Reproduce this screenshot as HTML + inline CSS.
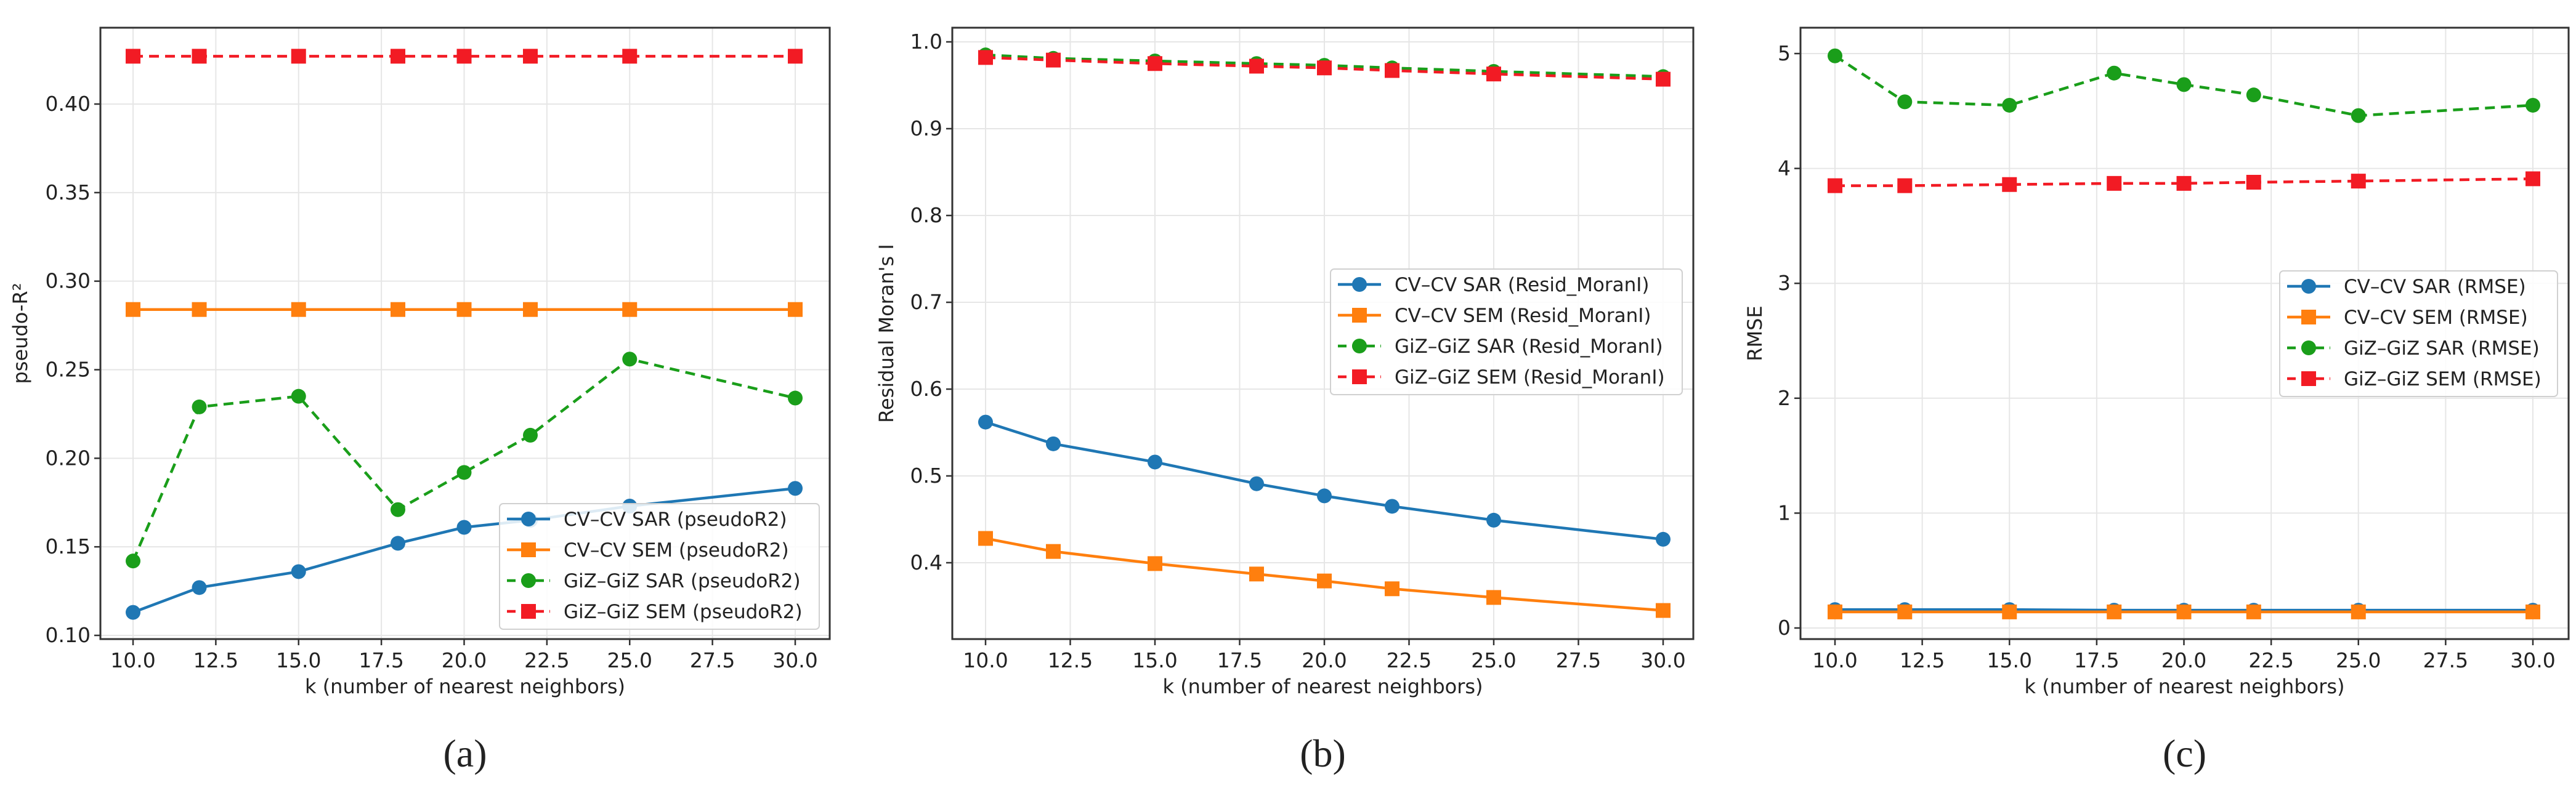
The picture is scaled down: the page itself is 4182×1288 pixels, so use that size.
<!DOCTYPE html>
<html><head><meta charset="utf-8"><style>
html,body{margin:0;padding:0;background:#fff;}
svg{display:block;}
text{font-family:"DejaVu Sans","Liberation Sans",sans-serif;fill:#222;}
</style></head><body>
<svg id="fig" width="4182" height="1288" viewBox="0 0 4182 1288" xmlns="http://www.w3.org/2000/svg"></svg>
<script>
const kValues = [10, 12, 15, 18, 20, 22, 25, 30];
const xTicks = [10, 12.5, 15, 17.5, 20, 22.5, 25, 27.5, 30];
const xTickLabels = ["10.0","12.5","15.0","17.5","20.0","22.5","25.0","27.5","30.0"];

const aCvSar = [0.113, 0.127, 0.136, 0.152, 0.161, 0.165, 0.173, 0.183];
const aCvSem = [0.284, 0.284, 0.284, 0.284, 0.284, 0.284, 0.284, 0.284];
const aGizSar = [0.142, 0.229, 0.235, 0.171, 0.192, 0.213, 0.256, 0.234];
const aGizSem = [0.427, 0.427, 0.427, 0.427, 0.427, 0.427, 0.427, 0.427];
const aYTicks = [0.10, 0.15, 0.20, 0.25, 0.30, 0.35, 0.40];
const aYTickLabels = ["0.10","0.15","0.20","0.25","0.30","0.35","0.40"];

const bCvSar = [0.562, 0.537, 0.516, 0.491, 0.477, 0.465, 0.449, 0.427];
const bCvSem = [0.428, 0.413, 0.399, 0.387, 0.379, 0.370, 0.360, 0.345];
const bGizSar = [0.985, 0.981, 0.978, 0.975, 0.973, 0.970, 0.966, 0.960];
const bGizSem = [0.982, 0.979, 0.975, 0.972, 0.970, 0.967, 0.963, 0.957];
const bYTicks = [0.4, 0.5, 0.6, 0.7, 0.8, 0.9, 1.0];
const bYTickLabels = ["0.4","0.5","0.6","0.7","0.8","0.9","1.0"];

const cCvSar = [0.16, 0.16, 0.16, 0.155, 0.155, 0.155, 0.155, 0.155];
const cCvSem = [0.14, 0.14, 0.14, 0.14, 0.14, 0.14, 0.14, 0.14];
const cGizSar = [4.98, 4.58, 4.55, 4.83, 4.73, 4.64, 4.46, 4.55];
const cGizSem = [3.85, 3.85, 3.86, 3.87, 3.87, 3.88, 3.89, 3.91];
const cYTicks = [0, 1, 2, 3, 4, 5];
const cYTickLabels = ["0","1","2","3","4","5"];

const NS = "http://www.w3.org/2000/svg";
const svg = document.getElementById("fig");
function mk(tag, attrs, parent){
  const e = document.createElementNS(NS, tag);
  for (const k in attrs) e.setAttribute(k, attrs[k]);
  (parent||svg).appendChild(e);
  return e;
}
const COLORS = {blue:"#1f77b4", orange:"#ff7f0e", green:"#1a9e1a", red:"#f21b24"};

function panel(cfg){
  const g = mk("g", {});
  
  
  const xs = v => cfg.x0 + (v - 10) * (cfg.x30 - cfg.x0) / 20;
  const ys = v => cfg.yA + (v - cfg.vA) * (cfg.yB - cfg.yA) / (cfg.vB - cfg.vA);
  xTicks.forEach((t,i)=>{
    const l = mk("line",{x1:xs(t),x2:xs(t),y1:cfg.top,y2:cfg.bottom,stroke:"#e6e6e6","stroke-width":2},g);
    
    
    const tk = mk("line",{x1:xs(t),x2:xs(t),y1:cfg.bottom,y2:cfg.bottom+10,stroke:"#333","stroke-width":2.5},g);
    
    
    const tx = mk("text",{x:xs(t),y:cfg.bottom+46,"text-anchor":"middle","font-size":33},g);
    tx.textContent = xTickLabels[i];
    
    
  });
  cfg.yTicks.forEach((t,i)=>{
    const l = mk("line",{x1:cfg.left,x2:cfg.right,y1:ys(t),y2:ys(t),stroke:"#e6e6e6","stroke-width":2},g);
    
    
    const tk = mk("line",{x1:cfg.left-10,x2:cfg.left,y1:ys(t),y2:ys(t),stroke:"#333","stroke-width":2.5},g);
    
    
    const tx = mk("text",{x:cfg.left-16,y:ys(t)+11,"text-anchor":"end","font-size":33},g);
    tx.textContent = cfg.yTickLabels[i];
    
    
  });
  cfg.series.forEach(s=>{
    const sg = mk("g",{},g);
    
    
    const pts = s.data.map((v,i)=>xs(kValues[i])+","+ys(v)).join(" ");
    const pl = mk("polyline",{points:pts,fill:"none",stroke:s.color,"stroke-width":4.5,"stroke-dasharray":s.dash?"16,10":"none"},sg);
    
    
    s.data.forEach((v,i)=>{
      let m;
      if (s.marker==="o") m = mk("circle",{cx:xs(kValues[i]),cy:ys(v),r:12,fill:s.color},sg);
      else m = mk("rect",{x:xs(kValues[i])-12,y:ys(v)-12,width:24,height:24,fill:s.color},sg);
      
      
    });
  });
  const fr = mk("rect",{x:cfg.left,y:cfg.top,width:cfg.right-cfg.left,height:cfg.bottom-cfg.top,fill:"none",stroke:"#333","stroke-width":3},g);
  
  
  const L = cfg.legend;
  const lg = mk("g",{},g);
  
  
  const lb = mk("rect",{x:L.x,y:L.y,width:L.w,height:204,rx:6,fill:"#fff","fill-opacity":0.85,stroke:"#d0d0d0","stroke-width":2},lg);
  
  
  cfg.series.forEach((s,i)=>{
    const cy = L.y + 25 + i*50;
    const eg = mk("g",{},lg);
    
    
    mk("line",{x1:L.x+12,x2:L.x+82,y1:cy,y2:cy,stroke:s.color,"stroke-width":4.5,"stroke-dasharray":s.dash?"14,9":"none"},eg);
    if (s.marker==="o") mk("circle",{cx:L.x+47,cy:cy,r:12,fill:s.color},eg);
    else mk("rect",{x:L.x+35,y:cy-12,width:24,height:24,fill:s.color},eg);
    const t = mk("text",{x:L.x+104,y:cy+11,"font-size":31},eg);
    t.textContent = s.label;
  });
  const xl = mk("text",{x:(cfg.left+cfg.right)/2,y:cfg.bottom+88,"text-anchor":"middle","font-size":32},g);
  xl.textContent = "k (number of nearest neighbors)";
  
  
  const yl = mk("text",{x:0,y:0,"text-anchor":"middle","font-size":32,transform:`translate(${cfg.ylabX},${(cfg.top+cfg.bottom)/2}) rotate(-90)`},g);
  yl.textContent = cfg.ylabel;
  
  
  const cap = mk("text",{x:(cfg.left+cfg.right)/2,y:1245,"text-anchor":"middle","font-size":64,style:"font-family:'Liberation Serif',serif"},g);
  cap.textContent = cfg.caption;
  
  
}

function mkSeries(d1,d2,d3,d4,tag){
  return [
    {name:"cv-cv-sar",label:"CV–CV SAR ("+tag+")",data:d1,color:COLORS.blue,marker:"o",dash:false},
    {name:"cv-cv-sem",label:"CV–CV SEM ("+tag+")",data:d2,color:COLORS.orange,marker:"s",dash:false},
    {name:"giz-giz-sar",label:"GiZ–GiZ SAR ("+tag+")",data:d3,color:COLORS.green,marker:"o",dash:true},
    {name:"giz-giz-sem",label:"GiZ–GiZ SEM ("+tag+")",data:d4,color:COLORS.red,marker:"s",dash:true}
  ];
}

panel({id:"a",left:163,right:1347,top:45,bottom:1038,x0:216,x30:1291,
  vA:0.40,yA:169,vB:0.10,yB:1032,yTicks:aYTicks,yTickLabels:aYTickLabels,
  ylabel:"pseudo-R²",ylabX:44,caption:"(a)",
  legend:{x:811,y:818,w:519},
  series:mkSeries(aCvSar,aCvSem,aGizSar,aGizSem,"pseudoR2")});
panel({id:"b",left:1546,right:2749,top:45,bottom:1038,x0:1600,x30:2700,
  vA:1.0,yA:68,vB:0.4,yB:914,yTicks:bYTicks,yTickLabels:bYTickLabels,
  ylabel:"Residual Moran's I",ylabX:1450,caption:"(b)",
  legend:{x:2160,y:437,w:571},
  series:mkSeries(bCvSar,bCvSem,bGizSar,bGizSem,"Resid_MoranI")});
panel({id:"c",left:2923,right:4170,top:45,bottom:1038,x0:2979,x30:4112,
  vA:5,yA:87,vB:0,yB:1020,yTicks:cYTicks,yTickLabels:cYTickLabels,
  ylabel:"RMSE",ylabX:2860,caption:"(c)",
  legend:{x:3701,y:440,w:451},
  series:mkSeries(cCvSar,cCvSem,cGizSar,cGizSem,"RMSE")});
</script>
</body></html>
